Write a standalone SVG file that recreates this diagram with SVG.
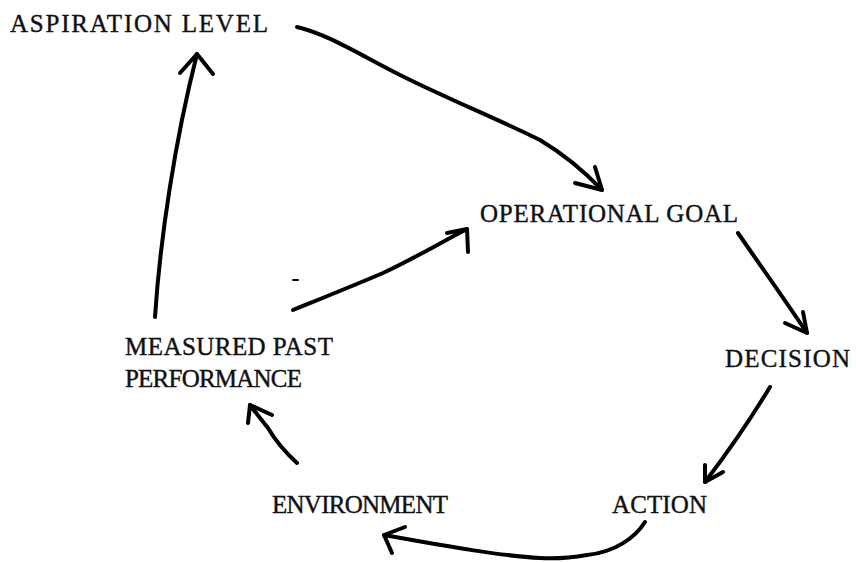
<svg xmlns="http://www.w3.org/2000/svg" width="856" height="562" viewBox="0 0 856 562">
  <style>
    .label { font-family: "Liberation Serif", "Times New Roman", serif; font-size: 25px; fill: #111; stroke: #111; stroke-width: 0.4px; }
    .wire { fill: none; stroke: #000; stroke-width: 4; stroke-linecap: round; stroke-linejoin: round; }
    .head { fill: none; stroke: #000; stroke-width: 4; stroke-linecap: round; stroke-linejoin: round; }
  </style>
  <rect width="856" height="562" fill="#fff"/>

  <!-- Nodes -->
  <g id="aspiration-level">
    <text class="label" x="10" y="32" textLength="258" lengthAdjust="spacing">ASPIRATION LEVEL</text>
  </g>
  <g id="operational-goal">
    <text class="label" x="480" y="222" textLength="258" lengthAdjust="spacing">OPERATIONAL GOAL</text>
  </g>
  <g id="decision">
    <text class="label" x="725" y="367" textLength="125" lengthAdjust="spacing">DECISION</text>
  </g>
  <g id="action">
    <text class="label" x="612" y="513" textLength="95" lengthAdjust="spacing">ACTION</text>
  </g>
  <g id="environment">
    <text class="label" x="272" y="513" textLength="176" lengthAdjust="spacing">ENVIRONMENT</text>
  </g>
  <g id="measured-past-performance">
    <text class="label" x="125" y="355" textLength="208" lengthAdjust="spacing">MEASURED PAST</text>
    <text class="label" x="125" y="387" textLength="177" lengthAdjust="spacing">PERFORMANCE</text>
  </g>

  <!-- Connectors -->
  <g id="connectors">
    <!-- aspiration level -> operational goal -->
    <path class="wire" d="M297,27 C330,35 360,55 400,75 C450,100 500,120 540,140 C565,155 585,172 602,190"/>
    <path class="head" d="M575,183 L602,190 L595,167"/>

    <!-- operational goal -> decision -->
    <path class="wire" d="M738,233 C760,265 785,300 807,333"/>
    <path class="head" d="M785,323 L807,333 L803,312"/>

    <!-- decision -> action -->
    <path class="wire" d="M770,387 C750,420 728,452 705,482"/>
    <path class="head" d="M705,465 L705,482 L723,472"/>

    <!-- action -> environment -->
    <path class="wire" d="M645,522 C635,538 615,552 587,555 C570,558 555,559 540,558 C500,556 440,545 384,535"/>
    <path class="head" d="M405,527 L384,535 L392,553"/>

    <!-- environment -> measured past performance -->
    <path class="wire" d="M297,463 C285,452 275,440 268,428 C262,420 255,412 250,405"/>
    <path class="head" d="M272,415 L250,405 L248,423"/>

    <!-- measured past performance -> aspiration level -->
    <path class="wire" d="M155,317 C160,240 175,140 197,54"/>
    <path class="head" d="M180,73 L197,54 L213,74"/>

    <!-- measured past performance -> operational goal -->
    <path class="wire" d="M293,310 C330,295 355,285 383,273 C415,258 440,243 467,229"/>
    <path class="head" d="M447,233 L467,229 L468,252"/>

    <!-- small stray stroke -->
    <path d="M293,280 L298,280" stroke="#000" stroke-width="2" stroke-linecap="round"/>
  </g>
</svg>
